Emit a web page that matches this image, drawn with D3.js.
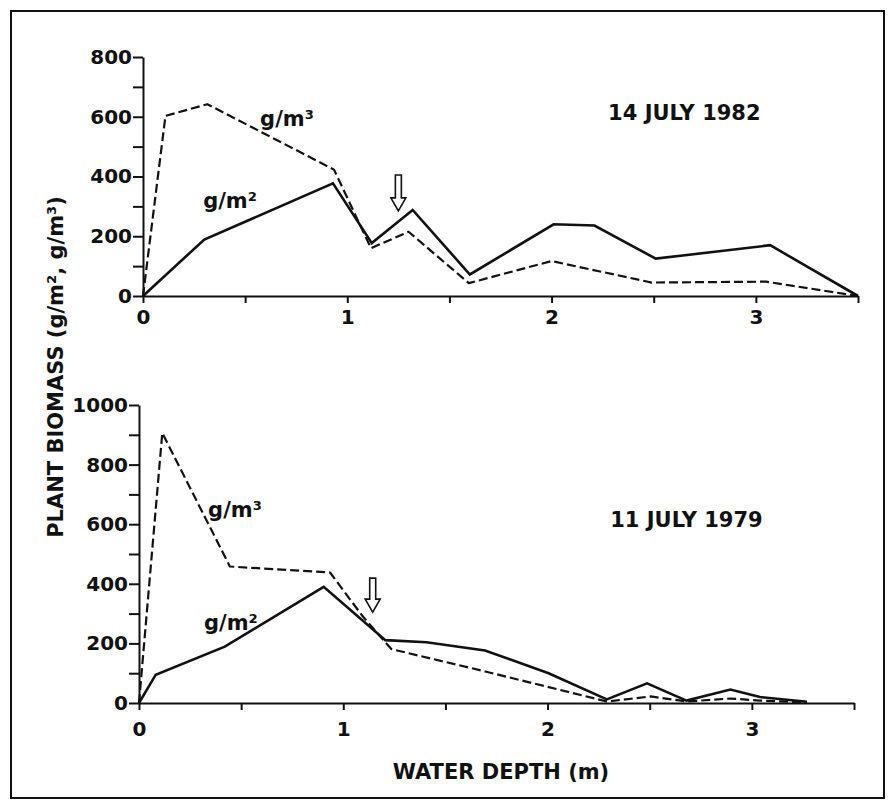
<!DOCTYPE html>
<html>
<head>
<meta charset="utf-8">
<script src="https://cdn.jsdelivr.net/npm/d3@7"></script>
<style>
  html, body { margin: 0; padding: 0; background: #fff; }
  svg { display: block; }
  text { font-family: "DejaVu Sans", sans-serif; font-weight: bold; fill: #111; }
</style>
</head>
<body>
<svg id="chart" width="888" height="803"></svg>
<script>
// ---------- DATA ----------
// 14 July 1982 (top panel)
const depth1982_m2 = [0, 0.30, 0.93, 1.12, 1.32, 1.60, 2.01, 2.21, 2.51, 3.07, 3.50];
const biomass1982_m2 = [0, 189, 377, 177, 288, 72, 240, 236, 125, 170, 0];
const depth1982_m3 = [0, 0.11, 0.315, 0.935, 1.116, 1.30, 1.595, 2.00, 2.49, 3.05, 3.50];
const biomass1982_m3 = [0, 603, 642, 423, 160, 215, 43, 117, 45, 48, 0];

// 11 July 1979 (bottom panel)
const depth1979_m2 = [0, 0.082, 0.42, 0.904, 1.206, 1.407, 1.694, 2.005, 2.29, 2.487, 2.68, 2.895, 3.04, 3.27];
const biomass1979_m2 = [0, 95, 189, 390, 211, 204, 176, 100, 12, 66, 8, 45, 20, 4];
const depth1979_m3 = [0, 0.114, 0.445, 0.935, 1.096, 1.235, 1.70, 2.29, 2.505, 2.68, 2.895, 3.04, 3.27];
const biomass1979_m3 = [0, 906, 458, 438, 290, 181, 105, 5, 22, 5, 15, 8, 2];

// axis ticks
const xTicks = [0, 0.5, 1, 1.5, 2, 2.5, 3, 3.5];
const xTickLabels = ["0", "", "1", "", "2", "", "3", ""];
const yTicksTop = [0, 100, 200, 300, 400, 500, 600, 700, 800];
const yTicksBottom = [0, 100, 200, 300, 400, 500, 600, 700, 800, 900, 1000];

// annotations (data coordinates)
const panelTitles = ["14 JULY 1982", "11 JULY 1979"];
const titlePos = [[2.65, 589], [2.68, 591]];
const arrowPos = [[1.25, 405, 285], [1.144, 419, 305]];          // x, top value, tip value
const labelM3Pos = [[0.705, 569], [0.47, 624]];
const labelM2Pos = [[0.426, 295], [0.45, 245]];
const yAxisTitle = "PLANT BIOMASS (g/m², g/m³)";
const xAxisTitle = "WATER DEPTH (m)";

// ---------- DRAW ----------
const svg = d3.select("#chart");

// outer frame
svg.append("rect")
  .attr("x", 11).attr("y", 11).attr("width", 873).attr("height", 787)
  .attr("fill", "none").attr("stroke", "#111").attr("stroke-width", 2);

const panels = [
  {
    x: d3.scaleLinear().domain([0, 3.5]).range([143, 858]),
    y: d3.scaleLinear().domain([0, 800]).range([296, 57]),
    yTicks: yTicksTop,
    m2: depth1982_m2.map((d, i) => [d, biomass1982_m2[i]]),
    m3: depth1982_m3.map((d, i) => [d, biomass1982_m3[i]]),
    xPad: 7
  },
  {
    x: d3.scaleLinear().domain([0, 3.5]).range([139, 854]),
    y: d3.scaleLinear().domain([0, 1000]).range([703, 405]),
    yTicks: yTicksBottom,
    m2: depth1979_m2.map((d, i) => [d, biomass1979_m2[i]]),
    m3: depth1979_m3.map((d, i) => [d, biomass1979_m3[i]]),
    xPad: 12
  }
];

panels.forEach((p, k) => {
  const g = svg.append("g");

  // y axis
  const yAxis = d3.axisLeft(p.y)
    .tickValues(p.yTicks)
    .tickFormat(d => (d % 200 === 0 ? String(d) : ""))
    .tickSize(10).tickSizeOuter(0).tickPadding(1);
  const ya = g.append("g").attr("transform", `translate(${p.x(0)},0)`).call(yAxis);
  ya.selectAll("path, line").attr("stroke", "#111").attr("stroke-width", 2);
  ya.selectAll("text").attr("font-size", 20).attr("font-family", "DejaVu Sans").attr("font-weight", "bold").attr("fill", "#111");

  // x axis
  const xAxis = d3.axisBottom(p.x)
    .tickValues(xTicks)
    .tickFormat((d, i) => xTickLabels[i])
    .tickSize(7).tickSizeOuter(0).tickPadding(p.xPad);
  const xa = g.append("g").attr("transform", `translate(0,${p.y(0)})`).call(xAxis);
  xa.selectAll("path, line").attr("stroke", "#111").attr("stroke-width", 2);
  xa.selectAll("text").attr("font-size", 20).attr("font-family", "DejaVu Sans").attr("font-weight", "bold").attr("fill", "#111");

  const line = d3.line().x(d => p.x(d[0])).y(d => p.y(d[1]));

  g.append("path").datum(p.m3).attr("d", line)
    .attr("fill", "none").attr("stroke", "#111").attr("stroke-width", 2.2)
    .attr("stroke-dasharray", "9,4").attr("stroke-linejoin", "round");
  g.append("path").datum(p.m2).attr("d", line)
    .attr("fill", "none").attr("stroke", "#111").attr("stroke-width", 2.6)
    .attr("stroke-linejoin", "miter");

  // series labels
  g.append("text").attr("x", p.x(labelM3Pos[k][0])).attr("y", p.y(labelM3Pos[k][1]))
    .attr("text-anchor", "middle").attr("font-size", 21).text("g/m³");
  g.append("text").attr("x", p.x(labelM2Pos[k][0])).attr("y", p.y(labelM2Pos[k][1]))
    .attr("text-anchor", "middle").attr("font-size", 21).text("g/m²");

  // title
  g.append("text").attr("x", p.x(titlePos[k][0])).attr("y", p.y(titlePos[k][1]))
    .attr("text-anchor", "middle").attr("font-size", 21).text(panelTitles[k]);

  // hollow arrow
  const ax = p.x(arrowPos[k][0]);
  const yt = p.y(arrowPos[k][1]);
  const yp = p.y(arrowPos[k][2]);
  const headH = 13, shaftW = 3, headW = 7.5;
  const pts = [
    [ax - shaftW, yt], [ax + shaftW, yt], [ax + shaftW, yp - headH],
    [ax + headW, yp - headH], [ax, yp], [ax - headW, yp - headH],
    [ax - shaftW, yp - headH]
  ];
  g.append("path").attr("d", "M" + pts.map(q => q.join(",")).join("L") + "Z")
    .attr("fill", "#fff").attr("stroke", "#111").attr("stroke-width", 1.6)
    .attr("stroke-linejoin", "miter");
});

// axis titles
svg.append("text")
  .attr("transform", "translate(63,367) rotate(-90)")
  .attr("text-anchor", "middle").attr("font-size", 21)
  .text(yAxisTitle);

svg.append("text")
  .attr("x", 501).attr("y", 779)
  .attr("text-anchor", "middle").attr("font-size", 21)
  .text(xAxisTitle);
</script>
</body>
</html>
